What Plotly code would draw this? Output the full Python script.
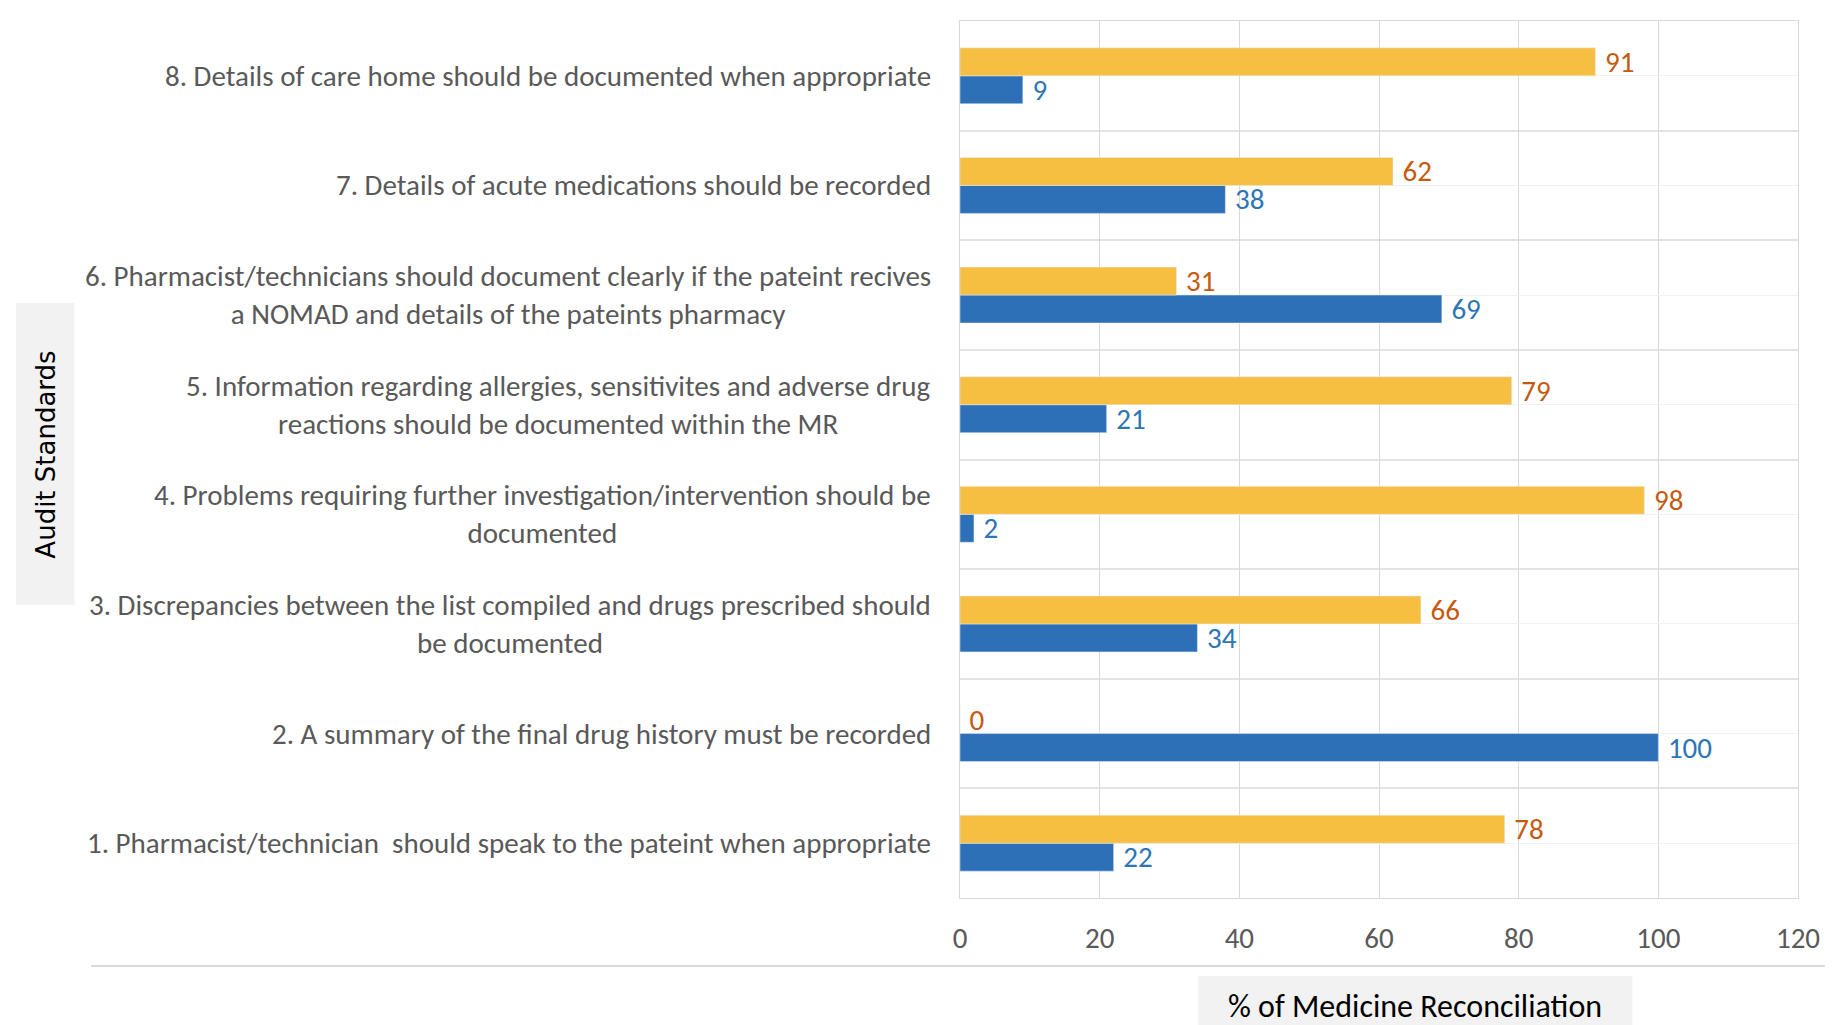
import plotly.graph_objects as go

# Audit standards, bottom (1) to top (8)
standards = [
    "1. Pharmacist/technician  should speak to the pateint when appropriate",
    "2. A summary of the final drug history must be recorded",
    "3. Discrepancies between the list compiled and drugs prescribed should<br>be documented",
    "4. Problems requiring further investigation/intervention should be<br>documented",
    "5. Information regarding allergies, sensitivites and adverse drug<br>reactions should be documented within the MR",
    "6. Pharmacist/technicians should document clearly if the pateint recives<br>a NOMAD and details of the pateints pharmacy",
    "7. Details of acute medications should be recorded",
    "8. Details of care home should be documented when appropriate",
]
series_blue = [22, 100, 34, 2, 21, 69, 38, 9]
series_gold = [78, 0, 66, 98, 79, 31, 62, 91]
x_ticks = [0, 20, 40, 60, 80, 100, 120]

W, H = 1832, 1025
L, R, T, B = 960, 1805, 21, 898
pw, ph = R - L, B - T


def px(x):
    return (x - L) / pw


def py(y):
    return (B - y) / ph


FONT = "Carlito, Calibri, Liberation Sans, sans-serif"
GRAY = "#595959"
pos = list(range(len(standards)))

fig = go.Figure()
fig.add_trace(go.Bar(
    y=pos, x=series_blue, orientation="h", name="Series 1",
    marker=dict(color="#2E70B8"),
    text=[str(v) for v in series_blue], texttemplate=" %{text}",
    textposition="outside", constraintext="none",
    textfont=dict(family=FONT, size=29, color="#2E75B6"),
    cliponaxis=False,
))
fig.add_trace(go.Bar(
    y=pos, x=series_gold, orientation="h", name="Series 2",
    marker=dict(color="#F6BF42"),
    text=[str(v) for v in series_gold], texttemplate=" %{text}",
    textposition="outside", constraintext="none",
    textfont=dict(family=FONT, size=29, color="#C55A11"),
    cliponaxis=False,
))

annotations = []
for i, label in enumerate(standards):
    annotations.append(dict(
        x=px(933), xref="paper", y=i, yref="y",
        xanchor="right", yanchor="middle", align="center",
        text=label, showarrow=False,
        font=dict(family=FONT, size=29, color=GRAY),
    ))

# axis titles in shaded boxes
annotations.append(dict(
    x=px(1419), xref="paper", y=py(1006), yref="paper",
    xanchor="center", yanchor="middle",
    text="% of Medicine Reconciliation", showarrow=False,
    font=dict(family=FONT, size=32, color="#000000"),
))
annotations.append(dict(
    x=px(38), xref="paper", y=py(455), yref="paper",
    xanchor="center", yanchor="middle", textangle=-90,
    text="Audit Standards", showarrow=False,
    font=dict(family="DejaVu Sans, sans-serif", size=26, color="#000000"),
))

shapes = [
    dict(type="rect", xref="paper", yref="paper",
         x0=px(1200), x1=px(1638), y0=py(976), y1=py(1030),
         fillcolor="#F2F2F2", line=dict(width=0), layer="below"),
    dict(type="rect", xref="paper", yref="paper",
         x0=px(8), x1=px(67), y0=py(303), y1=py(605),
         fillcolor="#F2F2F2", line=dict(width=0), layer="below"),
    dict(type="line", xref="paper", yref="paper",
         x0=px(84), x1=px(1832), y0=py(966), y1=py(966),
         line=dict(color="#D9D9D9", width=2)),
]

fig.update_layout(
    width=W, height=H,
    margin=dict(l=L, r=W - R, t=T, b=H - B),
    paper_bgcolor="white", plot_bgcolor="white",
    barmode="group", bargap=0.49, bargroupgap=0,
    showlegend=False,
    annotations=annotations, shapes=shapes,
    xaxis=dict(
        range=[0, 120], tickvals=x_ticks,
        showgrid=True, gridcolor="#D9D9D9", gridwidth=1,
        zeroline=False, showline=True, linecolor="#D9D9D9", mirror=True,
        ticks="", ticklabelstandoff=14,
        tickfont=dict(family=FONT, size=29, color=GRAY),
    ),
    yaxis=dict(
        range=[-0.5, len(standards) - 0.5], tickvals=pos,
        showticklabels=False, ticks="",
        showgrid=True, gridcolor="#F0F0F0", gridwidth=1,
        zeroline=False, showline=True, linecolor="#D9D9D9", mirror=True,
        minor=dict(tickvals=[p + 0.5 for p in pos[:-1]], showgrid=True,
                   gridcolor="#E3E3E3", gridwidth=2),
    ),
)

fig.write_html("out.html")
